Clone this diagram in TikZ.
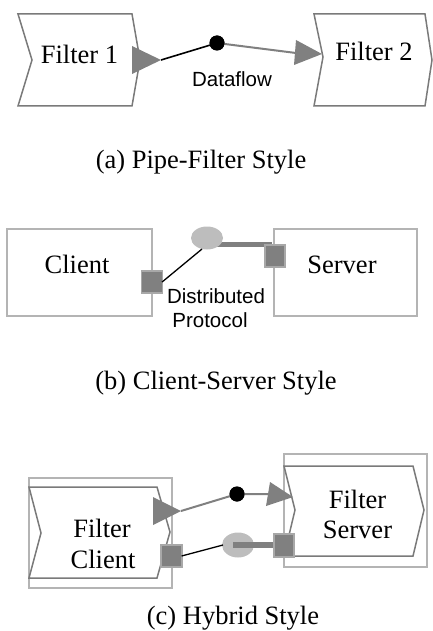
\documentclass[tikz,border=0pt]{standalone}
\usepackage{fontspec}
\setmainfont{Liberation Serif}
\setsansfont{Liberation Sans}
\usetikzlibrary{calc}

\definecolor{edgegray}{HTML}{7A7A7A}
\definecolor{boxgray}{HTML}{B4B4B4}
\definecolor{portgray}{HTML}{808080}
\definecolor{portedge}{HTML}{A8A8A8}
\definecolor{rolegray}{HTML}{BDBDBD}
\definecolor{tipgray}{HTML}{808080}

\tikzset{
  filterline/.style={draw=edgegray, line width=1.5pt, fill=white, line join=miter},
  compbox/.style={draw=boxgray, line width=2pt, fill=white},
  portbox/.style={fill=portgray, draw=portedge, line width=1.2pt},
  roleoval/.style={fill=rolegray, draw=none},
  tiptri/.style={fill=tipgray, draw=none},
  datadot/.style={circle, fill=black, inner sep=0pt, minimum size=15pt},
  blackwire/.style={draw=black, line width=1.6pt},
  graywire/.style={draw=tipgray, line width=2pt},
  barwire/.style={draw=portgray, line width=5.5pt},
  serlbl/.style={font=\fontsize{26.5}{31}\selectfont, inner sep=0pt, anchor=base},
  sanlbl/.style={font=\sffamily\fontsize{20.5}{24}\selectfont, inner sep=0pt, anchor=base},
}

\begin{document}
\begin{tikzpicture}[x=1pt, y=-1pt]
\useasboundingbox (0,0) rectangle (433,631);

% ---------- (a) pipe and filter ----------
\filldraw[filterline] (18,14) -- (132,14) -- (140,60) -- (132,106) -- (18,106) -- (32,60) -- cycle;
\filldraw[filterline] (314,14) -- (425,14) -- (432,60) -- (425,106) -- (314,106) -- (323,57) -- cycle;
\node[serlbl] (f1) at (79.5,64) {Filter 1};
\node[serlbl] (f2) at (374,61) {Filter 2};

\coordinate (f1out) at (161,60);
\coordinate (f2in) at (322,54);
\node[datadot] (dot1) at (217,43) {};
\draw[blackwire] (f1out) -- (dot1.center);
\draw[graywire] (dot1.center) -- (296,53);
\fill[tiptri] (132,46) -- (f1out) -- (132,74) -- cycle;
\fill[tiptri] (296,40) -- (f2in) -- (294,65) -- cycle;
\node[datadot] at (dot1) {};
\node[sanlbl] (dflow) at (232,87) {Dataflow};

\node[serlbl] (capa) at (201,168) {(a) Pipe-Filter Style};

% ---------- (b) client and server ----------
\draw[compbox] (7,229) rectangle (152,316);
\draw[compbox] (274,229) rectangle (417,316);
\node[serlbl] (cli) at (77,273) {Client};
\node[serlbl] (srv) at (342,273) {Server};

\coordinate (role1) at (207,238);
\draw[barwire] (215,244.5) -- (272,244.5);
\fill[roleoval] (role1) ellipse [x radius=16, y radius=11.5];
\node[portbox, minimum width=21pt, minimum height=22pt, inner sep=0pt] (cport) at (152,282) {};
\node[portbox, minimum width=20pt, minimum height=22pt, inner sep=0pt] (sport) at (275,256) {};
\draw[black, line width=1.3pt] (cport.east) ++(-1,0) -- (202,249);

\node[sanlbl] (dist) at (216,303) {Distributed};
\node[sanlbl] (prot) at (210,327) {Protocol};

\node[serlbl] (capb) at (216,389) {(b) Client-Server Style};

% ---------- (c) hybrid ----------
\draw[compbox] (29,478) rectangle (172,588);
\draw[compbox] (284,454) rectangle (427,567);
\filldraw[filterline] (29,487) -- (157,487) -- (170,532) -- (157,578) -- (29,578) -- (41,533) -- cycle;
\filldraw[filterline] (284,466) -- (413,466) -- (424,510) -- (413,556) -- (284,556) -- (295,510) -- cycle;
\node[serlbl] (fc1) at (102,537) {Filter};
\node[serlbl] (fc2) at (103,568) {Client};
\node[serlbl] (fs1) at (357.5,508) {Filter};
\node[serlbl] (fs2) at (357.5,538) {Server};

\coordinate (fcout) at (181,511);
\coordinate (fsin) at (293,497);
\node[datadot] (dot2) at (237,494) {};
\draw[graywire] (fcout) -- (dot2.center) -- (270,494);
\fill[tiptri] (153,497) -- (fcout) -- (153,525) -- cycle;
\fill[tiptri] (270,482) -- (fsin) -- (266,506) -- cycle;
\node[datadot] at (dot2) {};

\coordinate (role2) at (238,545);
\fill[roleoval] (role2) ellipse [x radius=16, y radius=12.5];
\draw[barwire] (233,545) -- (276,545);
\node[portbox, minimum width=21pt, minimum height=22pt, inner sep=0pt] (cport2) at (171.5,556) {};
\node[portbox, minimum width=20pt, minimum height=23pt, inner sep=0pt] (sport2) at (284,545.5) {};
\draw[black, line width=1.3pt] (cport2.east) ++(-1,0) -- (223,545);

\node[serlbl] (capc) at (233,624) {(c) Hybrid Style};
\end{tikzpicture}
\end{document}
